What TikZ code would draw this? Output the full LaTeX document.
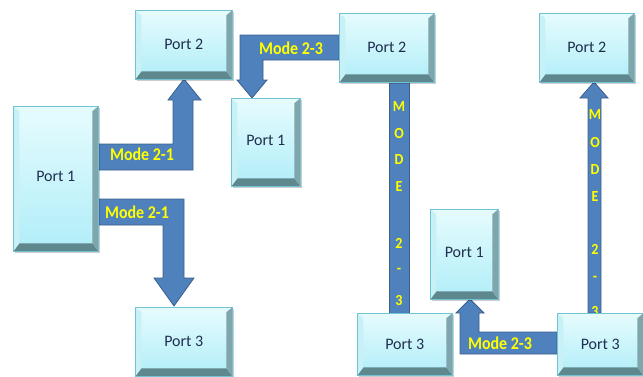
\documentclass[tikz,border=0pt]{standalone}
\usepackage{fontspec}
\setmainfont{Carlito}
\usetikzlibrary{shadows}
\definecolor{arrowfill}{HTML}{4F81BD}
\definecolor{arrowline}{HTML}{3A5F8C}
\definecolor{facetop}{HTML}{E6FCFE}
\definecolor{facebot}{HTML}{B0EDF8}
\definecolor{bevtop}{HTML}{E4FAFC}
\definecolor{bevleft}{HTML}{C8F1F7}
\definecolor{bevright}{HTML}{7FA6AD}
\definecolor{bevbot}{HTML}{5F878E}
\definecolor{boxedge}{HTML}{6FC3D3}
\definecolor{porttext}{HTML}{1F2F4F}
\definecolor{modeyellow}{HTML}{FFFF00}
\tikzset{
  port/.style={draw=boxedge, line width=0.6pt, top color=facetop, bottom color=facebot,
    inner sep=0pt, anchor=north west, text=porttext, font=\fontsize{16}{18}\selectfont,
    drop shadow={shadow xshift=2pt, shadow yshift=-2pt, fill=black, opacity=0.2},
    path picture={
      \path (path picture bounding box.north west) coordinate (bnw)
            (path picture bounding box.north east) coordinate (bne)
            (path picture bounding box.south west) coordinate (bsw)
            (path picture bounding box.south east) coordinate (bse);
      \fill[bevtop] (bnw) -- (bne) -- ([shift={(-6pt,-5pt)}]bne) -- ([shift={(6pt,-5pt)}]bnw) -- cycle;
      \fill[bevbot] (bsw) -- (bse) -- ([shift={(-6pt,8pt)}]bse) -- ([shift={(6pt,8pt)}]bsw) -- cycle;
      \fill[bevleft] (bnw) -- ([shift={(6pt,-5pt)}]bnw) -- ([shift={(6pt,8pt)}]bsw) -- (bsw) -- cycle;
      \fill[bevright] (bne) -- ([shift={(-6pt,-5pt)}]bne) -- ([shift={(-6pt,8pt)}]bse) -- (bse) -- cycle;
    }},
  blockarrow/.style={fill=arrowfill, draw=arrowline, line width=0.8pt, line join=miter},
  modelabel/.style={text=modeyellow, font=\bfseries\fontsize{16}{18}\selectfont, inner sep=0pt, yscale=1.12},
  vletter/.style={text=modeyellow, font=\bfseries\fontsize{14}{16}\selectfont, inner sep=0pt, yscale=1.1},
}
\begin{document}
\begin{tikzpicture}[x=1pt, y=-1pt]
\useasboundingbox (0,0) rectangle (643,376);
\clip (0,0) rectangle (643,376);
% block arrows
\draw[blockarrow] (98,144) -- (173,144) -- (173,100) -- (168,100) -- (184,79) -- (201,100) -- (193,100) -- (193,170) -- (98,170) -- cycle;
\draw[blockarrow] (98,199) -- (184,199) -- (184,278) -- (194,278) -- (174,306) -- (154,278) -- (163,278) -- (163,225) -- (98,225) -- cycle;
\draw[blockarrow] (339,35) -- (240,35) -- (240,80) -- (237,80) -- (252,98) -- (267,80) -- (263,80) -- (263,60) -- (339,60) -- cycle;
\draw[blockarrow] (389,82) rectangle (409,313);
\draw[blockarrow] (588,313) -- (588,98) -- (580,98) -- (594,82) -- (608,98) -- (601,98) -- (601,313) -- cycle;
\draw[blockarrow] (557,332) -- (479,332) -- (479,313) -- (484,313) -- (470,299) -- (456,313) -- (460,313) -- (460,354) -- (557,354) -- cycle;
% labels
\node[modelabel] (l1) at (142,154) {Mode 2-1};
\node[modelabel] (l2) at (137,212) {Mode 2-1};
\node[modelabel] (l3) at (291,48) {Mode 2-3};
\node[modelabel] (l4) at (500,343) {Mode 2-3};
\foreach \ch/\yy [count=\i] in {M/107,O/133,D/160,E/187,2/243,-/271,3/300}
  \node[vletter] (va\i) at (399,\yy) {\ch};
\foreach \ch/\yy [count=\i] in {M/115,O/142,D/170,E/196,2/249,-/279,3/311}
  \node[vletter] (vb\i) at (595,\yy) {\ch};
% port boxes
\node[port, minimum width=85pt, minimum height=145pt] (p1a) at (13,106) {\raisebox{5pt}{Port 1}};
\node[port, minimum width=97pt, minimum height=69pt] (p2a) at (135,10) {Port 2};
\node[port, minimum width=97pt, minimum height=69pt] (p3a) at (135,307) {Port 3};
\node[port, minimum width=69pt, minimum height=88pt] (p1b) at (231,98) {\raisebox{4pt}{Port 1}};
\node[port, minimum width=95pt, minimum height=69pt] (p2b) at (339,13) {Port 2};
\node[port, minimum width=95pt, minimum height=62pt] (p3b) at (357,313) {Port 3};
\node[port, minimum width=95pt, minimum height=69pt] (p2c) at (539,13) {Port 2};
\node[port, minimum width=68pt, minimum height=90pt] (p1c) at (430,209) {\raisebox{4pt}{Port 1}};
\node[port, minimum width=86pt, minimum height=62pt] (p3c) at (557,313) {Port 3};
\end{tikzpicture}
\end{document}
